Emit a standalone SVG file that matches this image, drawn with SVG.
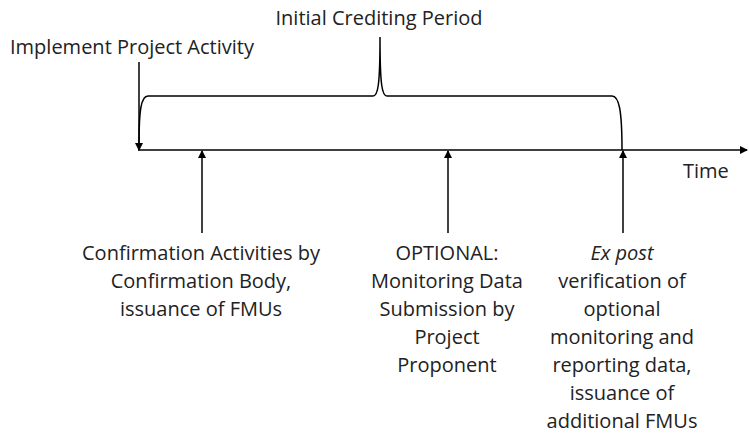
<svg xmlns="http://www.w3.org/2000/svg" width="749" height="434" viewBox="0 0 749 434">
<defs>
<style>
text{font-family:"Open Sans","Liberation Sans",Arial,sans-serif;font-size:20px;fill:#222;}
.c{text-anchor:middle;}
.ln{stroke:#000;stroke-width:1.5;fill:none;}
</style>
<marker id="a" viewBox="0 0 8 8" refX="7" refY="4" markerWidth="8" markerHeight="8" orient="auto" markerUnits="userSpaceOnUse"><path d="M0,0 L8,4 L0,8 z" fill="#000"/></marker>
</defs>
<g id="connectors">
<line class="ln" x1="138" y1="150" x2="747" y2="150" marker-end="url(#a)"/>
<line class="ln" x1="139" y1="62" x2="139" y2="150" marker-end="url(#a)"/>
<path class="ln" d="M139,146 C139,110 141,96 148,96 L373,96 C378,96 380,85 380,37 C380,85 382,96 387,96 L612,96 C619,96 622,110 622,150"/>
<line class="ln" x1="202" y1="233" x2="202" y2="151" marker-end="url(#a)"/>
<line class="ln" x1="448" y1="233" x2="448" y2="151" marker-end="url(#a)"/>
<line class="ln" x1="623" y1="233" x2="623" y2="151" marker-end="url(#a)"/>
</g>
<g id="initial-crediting-period"><text class="c" x="379" y="25">Initial Crediting Period</text></g>
<g id="implement-project-activity"><text x="10" y="54">Implement Project Activity</text></g>
<g id="time"><text x="683" y="178">Time</text></g>
<g id="confirmation">
<text class="c" x="201" y="260">Confirmation Activities by</text>
<text class="c" x="201" y="288">Confirmation Body,</text>
<text class="c" x="201" y="316">issuance of FMUs</text>
</g>
<g id="optional">
<text class="c" x="447" y="260">OPTIONAL:</text>
<text class="c" x="447" y="288">Monitoring Data</text>
<text class="c" x="447" y="316">Submission by</text>
<text class="c" x="447" y="344">Project</text>
<text class="c" x="447" y="372">Proponent</text>
</g>
<g id="ex-post">
<text class="c" x="622" y="260" font-style="italic">Ex post</text>
<text class="c" x="622" y="288">verification of</text>
<text class="c" x="622" y="316">optional</text>
<text class="c" x="622" y="344">monitoring and</text>
<text class="c" x="622" y="372">reporting data,</text>
<text class="c" x="622" y="400">issuance of</text>
<text class="c" x="622" y="428">additional FMUs</text>
</g>
</svg>
